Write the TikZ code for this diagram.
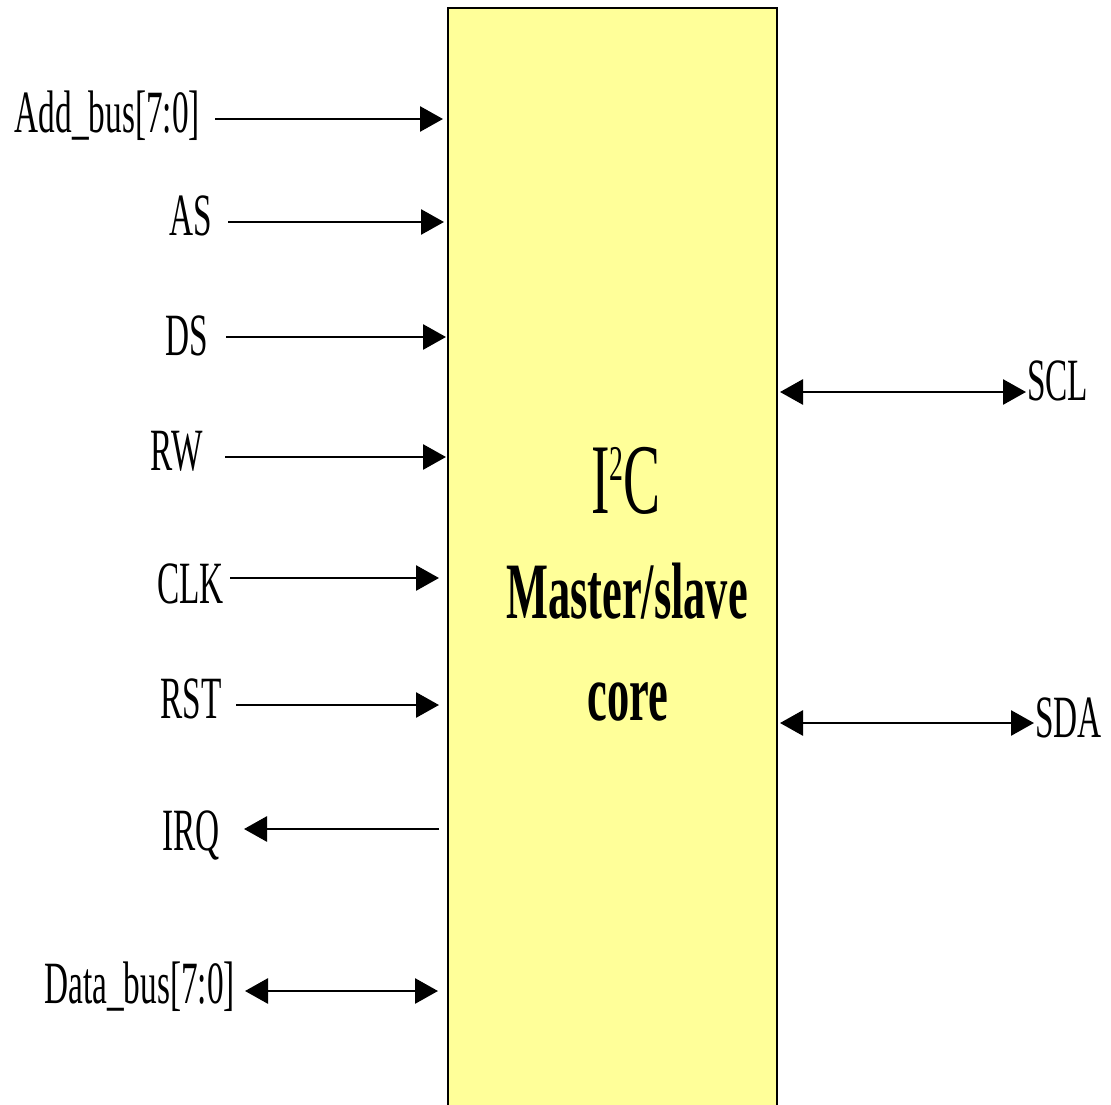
\documentclass[tikz,border=0pt]{standalone}
\usepackage{fontspec}
\usetikzlibrary{arrows.meta}
\newfontfamily\lblfont[FakeStretch=0.555]{Liberation Serif}
\definecolor{coreyellow}{HTML}{FFFF99}
\tikzset{
  sig/.style={line width=2.8pt, -{Triangle[length=23pt,width=25pt]}},
  bisig/.style={line width=2.8pt, {Triangle[length=23pt,width=25pt]}-{Triangle[length=23pt,width=25pt]}},
  lblL/.style={anchor=base east, inner sep=0pt, font=\lblfont\fontsize{60}{60}\selectfont},
  lblR/.style={anchor=base west, inner sep=0pt, font=\lblfont\fontsize{60}{60}\selectfont},
}
\begin{document}
\begin{tikzpicture}[x=1pt,y=-1pt]
\useasboundingbox (0,0) rectangle (1111,1105);
% core box
\fill[coreyellow] (448,8) rectangle (777,1110);
\draw[line width=2pt] (448,1110) -- (448,8) -- (777,8) -- (777,1110);
\node[inner sep=0pt, anchor=base, font=\lblfont\fontsize{100}{100}\selectfont] (i2c) at (626,513) {I\raisebox{33pt}{\fontsize{50}{50}\selectfont 2}C};
\node[inner sep=0pt, anchor=base, font=\lblfont\bfseries\fontsize{80}{80}\selectfont] (ms) at (627,618) {Master/slave};
\node[inner sep=0pt, anchor=base, font=\lblfont\bfseries\fontsize{80}{80}\selectfont] (core) at (628,720) {core};
% left labels
\node[lblL] (add) at (200,133) {Add\_bus[7:0]};
\node[lblL] (as) at (212,235) {AS};
\node[lblL] (ds) at (208,355) {DS};
\node[lblL] (rw) at (203,470) {RW};
\node[lblL] (clk) at (224,603) {CLK};
\node[lblL] (rst) at (222,718) {RST};
\node[lblL] (irq) at (220,850) {IRQ};
\node[lblL] (data) at (235,1003) {Data\_bus[7:0]};
% right labels
\node[lblR] (scl) at (1027,400) {SCL};
\node[lblR] (sda) at (1035,737) {SDA};
% connector ends
\coordinate (addA) at (215,119);  \coordinate (addB) at (443,119);
\coordinate (asA) at (228,222);   \coordinate (asB) at (444,222);
\coordinate (dsA) at (226,337);   \coordinate (dsB) at (446,337);
\coordinate (rwA) at (225,457);   \coordinate (rwB) at (446,457);
\coordinate (clkA) at (230,578);  \coordinate (clkB) at (439,578);
\coordinate (rstA) at (236,705);  \coordinate (rstB) at (439,705);
\coordinate (irqA) at (439,829);  \coordinate (irqB) at (244,829);
\coordinate (dataA) at (245,991); \coordinate (dataB) at (438,991);
\coordinate (sclA) at (780,392);  \coordinate (sclB) at (1026,392);
\coordinate (sdaA) at (780,723);  \coordinate (sdaB) at (1034,723);
\draw[sig] (addA) -- (addB);
\draw[sig] (asA) -- (asB);
\draw[sig] (dsA) -- (dsB);
\draw[sig] (rwA) -- (rwB);
\draw[sig] (clkA) -- (clkB);
\draw[sig] (rstA) -- (rstB);
\draw[sig] (irqA) -- (irqB);
\draw[bisig] (dataA) -- (dataB);
\draw[bisig] (sclA) -- (sclB);
\draw[bisig] (sdaA) -- (sdaB);
\end{tikzpicture}
\end{document}
